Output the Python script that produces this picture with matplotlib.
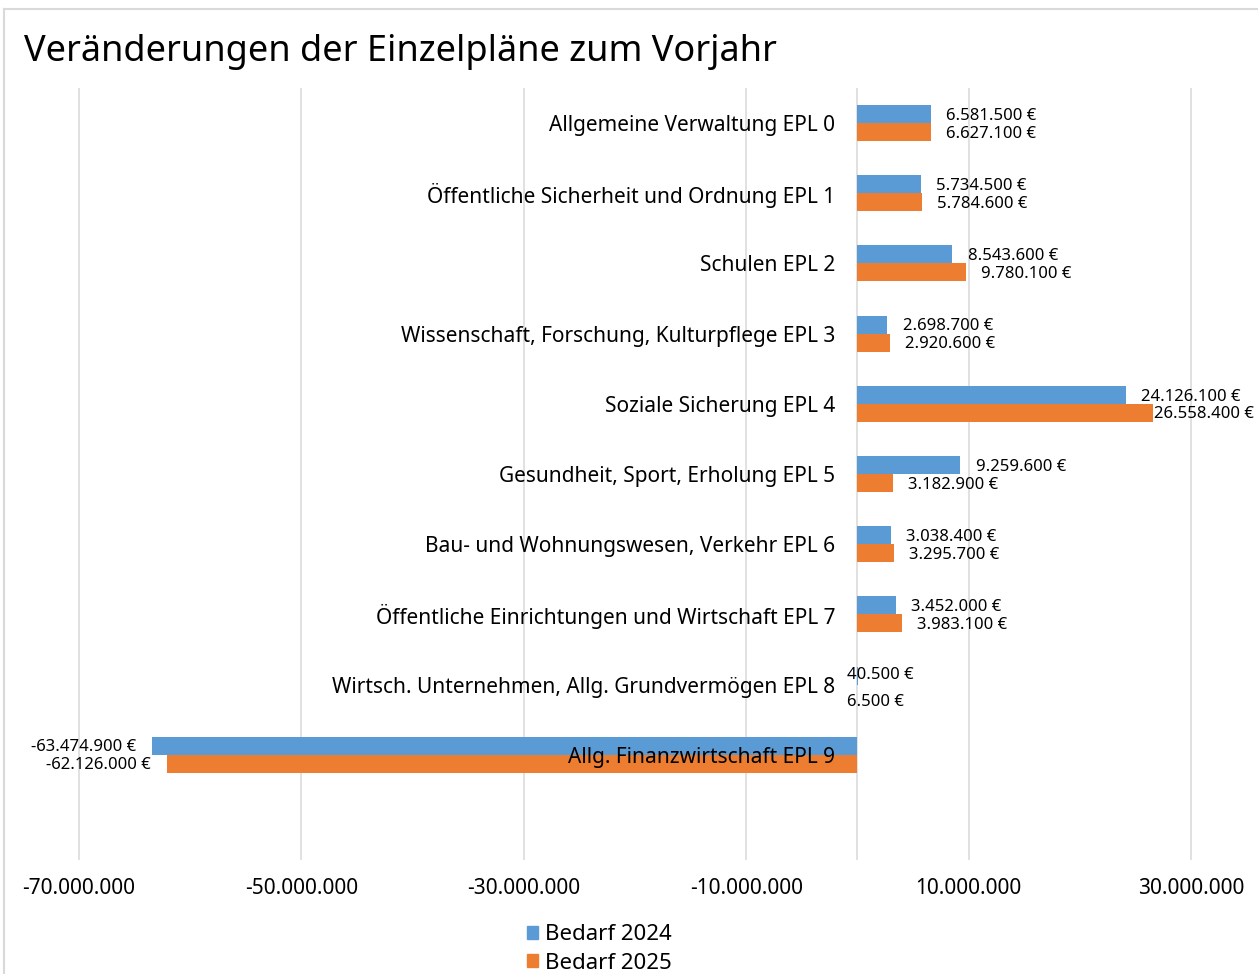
import matplotlib.pyplot as plt
from matplotlib.patches import Patch
from matplotlib.lines import Line2D

plt.rcParams['font.family'] = ['Noto Sans', 'DejaVu Sans']

categories = [
    "Allgemeine Verwaltung EPL 0",
    "Öffentliche Sicherheit und Ordnung EPL 1",
    "Schulen EPL 2",
    "Wissenschaft, Forschung, Kulturpflege EPL 3",
    "Soziale Sicherung EPL 4",
    "Gesundheit, Sport, Erholung EPL 5",
    "Bau- und Wohnungswesen, Verkehr EPL 6",
    "Öffentliche Einrichtungen und Wirtschaft EPL 7",
    "Wirtsch. Unternehmen, Allg. Grundvermögen EPL 8",
    "Allg. Finanzwirtschaft EPL 9",
]
bedarf_2024 = [6581500, 5734500, 8543600, 2698700, 24126100,
               9259600, 3038400, 3452000, 40500, -63474900]
bedarf_2025 = [6627100, 5784600, 9780100, 2920600, 26558400,
               3182900, 3295700, 3983100, 6500, -62126000]
x_ticks = [-70e6, -50e6, -30e6, -10e6, 10e6, 30e6]

blue = '#5B9BD5'
orange = '#ED7D31'
grid_c = '#D9D9D9'

W, H = 1258, 974
fig = plt.figure(figsize=(W / 100, H / 100), dpi=100)

# plot area in pixels: x 73.4..1196.6 for -70.5M..30.5M, y 88..860
ax = fig.add_axes([73.4 / W, 1 - 860 / H, (1196.6 - 73.4) / W, (860 - 88) / H])
ax.set_xlim(-70.5e6, 30.5e6)
n_rows = len(categories) + 1  # one empty row at the bottom
ax.set_ylim(n_rows - 0.5, -0.5)

h = 0.256
ys = list(range(len(categories)))
ax.barh([y - h / 2 for y in ys], bedarf_2024, height=h, color=blue,
        label='Bedarf 2024', zorder=3)
ax.barh([y + h / 2 for y in ys], bedarf_2025, height=h, color=orange,
        label='Bedarf 2025', zorder=3)

for s in ax.spines.values():
    s.set_visible(False)
ax.set_yticks([])
ax.set_xticks(x_ticks)
ax.set_xticklabels([f"{int(v):,}".replace(',', '.') for v in x_ticks],
                   fontsize=15)
ax.tick_params(axis='x', length=0, pad=13)
ax.grid(axis='x', color=grid_c, linewidth=1.1, zorder=0)
ax.axvline(0, color=grid_c, linewidth=1.1, zorder=1)


def fmt(v):
    return f"{v:,}".replace(',', '.') + " €"


value_labels = []
for y, v1, v2 in zip(ys, bedarf_2024, bedarf_2025):
    for v, dy, small_dy in ((v1, -h / 2, -2), (v2, h / 2, 7)):
        if abs(v) < 100000:
            ax.annotate(fmt(v), (0, y + dy),
                        xytext=(-7.5, -small_dy * 0.72 - 1.2), textcoords='offset points',
                        ha='left', va='center', fontsize=12, zorder=5)
        elif v >= 0:
            t = ax.annotate(fmt(v), (v, y + dy), xytext=(11, -1.2),
                            textcoords='offset points', ha='left', va='center',
                            fontsize=12, zorder=5)
            value_labels.append(t)
        else:
            ax.annotate(fmt(v), (v, y + dy), xytext=(-11, -1.2),
                        textcoords='offset points', ha='right', va='center',
                        fontsize=12, zorder=5)
    ax.annotate(categories[y], (0, y), xytext=(-16, -1.8),
                textcoords='offset points', ha='right', va='center',
                fontsize=15, zorder=6)

# keep labels inside the chart frame, like the original does
fig.canvas.draw()
renderer = fig.canvas.get_renderer()
for t in value_labels:
    ext = t.get_window_extent(renderer)
    if ext.x1 > W - 4:
        ox, oy = t.xyann
        t.xyann = (ox - (ext.x1 - (W - 4)) * 0.72, oy)

fig.text(24 / W, 1 - 52 / H, "Veränderungen der Einzelpläne zum Vorjahr",
         fontsize=26, ha='left', va='center')

handles = [Patch(color=blue), Patch(color=orange)]
fig.legend(handles, ['Bedarf 2024', 'Bedarf 2025'], loc='center left',
           bbox_to_anchor=(527 / W, 1 - 949 / H), frameon=False, fontsize=16,
           handlelength=0.5, handleheight=0.5, handletextpad=0.3,
           labelspacing=0.32, borderpad=0, borderaxespad=0)

# light border of the chart frame
fig.add_artist(Line2D([4 / W, 1], [1 - 9 / H, 1 - 9 / H], color=grid_c,
                      linewidth=1.5, transform=fig.transFigure))
fig.add_artist(Line2D([4 / W, 4 / W], [0, 1 - 9 / H], color=grid_c,
                      linewidth=1.5, transform=fig.transFigure))

fig.savefig('out.png', dpi=100)
